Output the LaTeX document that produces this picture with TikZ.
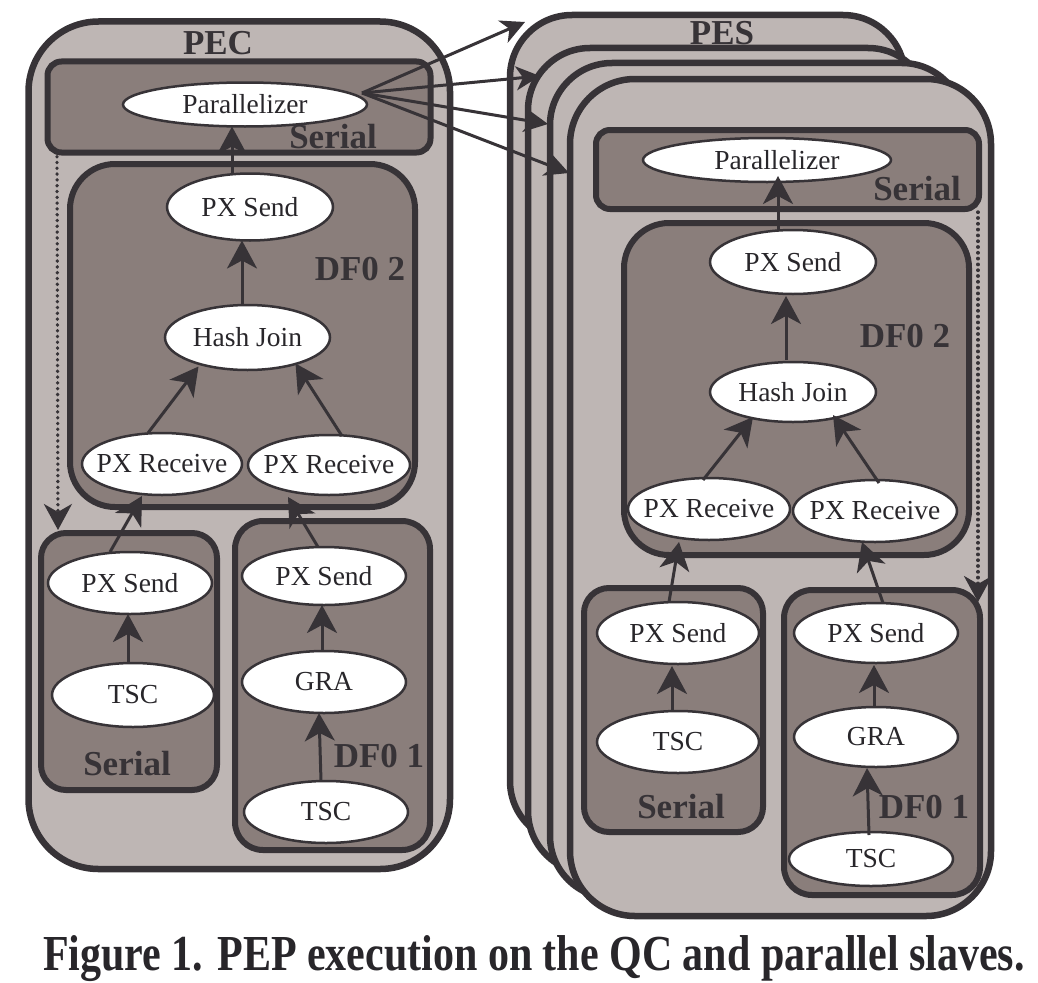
\documentclass[tikz,border=0pt]{standalone}
\usepackage{fontspec}
\setmainfont{Liberation Serif}
\usetikzlibrary{arrows.meta,calc,shapes.geometric}
\definecolor{boxlight}{RGB}{190,182,180}
\definecolor{boxdark}{RGB}{138,126,123}
\definecolor{edgecol}{RGB}{55,51,55}
\definecolor{ink}{RGB}{40,38,42}
\tikzset{
  rect/.style n args={3}{rectangle, minimum width=#1, minimum height=#2, rounded corners=#3, inner sep=0pt, outer sep=0pt},
  outerbox/.style={draw=edgecol, fill=boxlight, line width=6.5pt},
  innerbox/.style={draw=edgecol, fill=boxdark, line width=6pt},
  op/.style 2 args={ellipse, draw=edgecol, fill=white, line width=2.5pt, minimum width=#1, minimum height=#2, inner sep=0pt, outer sep=0pt, text=ink, font=\fontsize{27.5}{30}\selectfont},
  lbl/.style={anchor=base, text=edgecol, inner sep=0pt, font=\fontsize{35}{40}\selectfont\bfseries},
  arr/.style={draw=edgecol, line width=3pt, -{Stealth[length=28pt,width=30pt,inset=8pt]}},
  farr/.style={draw=edgecol, line width=3pt, -{Stealth[length=24pt,width=24pt,inset=7pt]}},
  dotarr/.style={draw=edgecol, line width=3.4pt, line cap=round, dash pattern=on 0.4pt off 5.4pt, -{Stealth[length=26pt,width=28pt,inset=8pt]}},
}
\begin{document}
\begin{tikzpicture}[x=1pt,y=-1pt]
\useasboundingbox (0,0) rectangle (1038,982);

% ---------------- PES stack ----------------
\node[outerbox, rect={395pt}{828pt}{62pt}] (pes1) at (707.5,429) {};
\node[lbl] (peslbl) at (722,45) {PES};
\node[outerbox, rect={402pt}{825pt}{62pt}] (pes2) at (729,460.5) {};
\node[outerbox, rect={414pt}{835pt}{62pt}] (pes3) at (757,480.5) {};
\node[outerbox, rect={421pt}{837pt}{65pt}] (pes4) at (780.5,497.5) {};

\node[innerbox, rect={383pt}{79pt}{14pt}] (pesser) at (787.5,169.5) {};
\node[innerbox, rect={345pt}{332pt}{45pt}] (pesdf2) at (796.5,389) {};
\node[innerbox, rect={179pt}{244pt}{25pt}] (pessb) at (673.5,710) {};
\node[innerbox, rect={196pt}{305pt}{28pt}] (pesdf1) at (882,742.5) {};

\node[lbl] (pesserl) at (917,200) {Serial};
\node[lbl] (pesdf2l) at (905,347) {DF0 2};
\node[lbl] (pessbl) at (681,818) {Serial};
\node[lbl] (pesdf1l) at (924,818) {DF0 1};

\node[op={248pt}{44pt}] (pespar) at (767,160) {\makebox[0pt]{\hspace{20pt}Parallelizer}};
\node[op={166pt}{64pt}] (pesps) at (793,262) {\makebox[0pt]{PX Send}};
\node[op={166pt}{60pt}] (peshj) at (793,392) {\makebox[0pt]{Hash Join}};
\node[op={162pt}{62pt}] (pesrl) at (709,509) {\makebox[0pt]{PX Receive}};
\node[op={164pt}{62pt}] (pesrr) at (875,511) {\makebox[0pt]{PX Receive}};
\node[op={162pt}{62pt}] (pessps) at (678,633) {\makebox[0pt]{PX Send}};
\node[op={162pt}{62pt}] (pests) at (678,742) {\makebox[0pt]{TSC}};
\node[op={164pt}{60pt}] (pesdps) at (876,633) {\makebox[0pt]{PX Send}};
\node[op={164pt}{60pt}] (pesgra) at (876,737) {\makebox[0pt]{GRA}};
\node[op={164pt}{54pt}] (pestb) at (871,859) {\makebox[0pt]{TSC}};

\draw[arr] ($(pesps.north)+(-15,0)$) -- ($(pespar.south)+(11,-6)$);
\draw[arr] ($(peshj.north)+(-7,-2)$) -- ($(pesps.south)+(-7,2)$);
\draw[arr] ($(pesrl.north)+(-6,2)$) -- ($(peshj.center)+(-40,25)$);
\draw[arr] ($(pesrr.north)+(4,3)$) -- ($(peshj.center)+(40,23)$);
\draw[arr] ($(pessps.north)+(-9,0)$) -- ($(pesrl.center)+(-30,33)$);
\draw[arr] ($(pests.north)+(-6,0)$) -- ($(pessps.south)+(-6,2)$);
\draw[arr] ($(pesdps.north)+(7,0)$) -- ($(pesrr.center)+(-13,31)$);
\draw[arr] ($(pesgra.north)+(-2,0)$) -- ($(pesdps.south)+(-2,2)$);
\draw[arr] ($(pestb.north)+(-2,3)$) -- ($(pesgra.south)+(-9,1)$);
\draw[dotarr] ($(pesser.south east)+(-1,3)$) -- ($(pesdf1.north east)+(-2,12)$);

% ---------------- PEC ----------------
\node[outerbox, rect={421.5pt}{847.5pt}{70pt}] (pec) at (239.25,445.25) {};
\node[lbl] (peclbl) at (218,55) {PEC};
\node[innerbox, rect={383pt}{91pt}{14pt}] (pecser) at (239,107) {};
\node[innerbox, rect={345pt}{343pt}{45pt}] (pecdf2) at (242.5,335.5) {};
\node[innerbox, rect={176pt}{257pt}{25pt}] (pecsb) at (129,661.5) {};
\node[innerbox, rect={195pt}{329pt}{28pt}] (pecdf1) at (332.5,685.5) {};

\node[lbl] (pecserl) at (333,148) {Serial};
\node[lbl] (pecdf2l) at (360,280) {DF0 2};
\node[lbl] (pecsbl) at (127,775) {Serial};
\node[lbl] (pecdf1l) at (379,767) {DF0 1};

\node[op={244pt}{44pt}] (pecpar) at (245,104.5) {\makebox[0pt]{Parallelizer}};
\node[op={166pt}{67pt}] (pecps) at (250,207) {\makebox[0pt]{PX Send}};
\node[op={165pt}{65pt}] (pechj) at (247.5,337.5) {\makebox[0pt]{Hash Join}};
\node[op={160pt}{62pt}] (pecrl) at (162,464) {\makebox[0pt]{PX Receive}};
\node[op={162pt}{60pt}] (pecrr) at (329,465) {\makebox[0pt]{PX Receive}};
\node[op={164pt}{62pt}] (pecsps) at (130,583) {\makebox[0pt]{PX Send}};
\node[op={162pt}{64pt}] (pects) at (133,695) {\makebox[0pt]{TSC}};
\node[op={164pt}{58pt}] (pecdps) at (324,576) {\makebox[0pt]{PX Send}};
\node[op={164pt}{62pt}] (pecgra) at (324,682) {\makebox[0pt]{GRA}};
\node[op={164pt}{62pt}] (pectb) at (326,812) {\makebox[0pt]{TSC}};

\draw[arr] ($(pecps.north)+(-18,0)$) -- ($(pecpar.south)+(-13,0)$);
\draw[arr] ($(pechj.north)+(-5.5,0)$) -- ($(pecps.south)+(-8,0)$);
\draw[arr] ($(pecrl.north)+(-14,0)$) -- ($(pechj.center)+(-49,29)$);
\draw[arr] ($(pecrr.north)+(13,1)$) -- ($(pechj.center)+(48,26)$);
\draw[arr] ($(pecsps.north)+(-20,0)$) -- ($(pecrl.south)+(-20,1)$);
\draw[arr] ($(pects.north)+(-5,0)$) -- ($(pecsps.south)+(-2,0)$);
\draw[arr] ($(pecdps.north)+(-6,0)$) -- ($(pecrr.center)+(-41,32)$);
\draw[arr] ($(pecgra.north)+(-2,0)$) -- ($(pecdps.south)+(-2,0)$);
\draw[arr] ($(pectb.north)+(-5,0)$) -- ($(pecgra.south)+(-5,0)$);
\draw[dotarr] ($(pecser.south west)+(9.5,4)$) -- ($(pecsb.north west)+(17,-3)$);

% ---------------- fan-out to the slaves ----------------
\coordinate (src) at (362,93);
\coordinate (t1) at (525,22);
\coordinate (t2) at (540,76);
\coordinate (t3) at (548,124);
\coordinate (t4) at (569,173);
\draw[farr] (src) -- (t1);
\draw[farr] (src) -- (t2);
\draw[farr] (src) -- (t3);
\draw[farr] (src) -- (t4);

% ---------------- caption ----------------
\node[anchor=base, inner sep=0pt, text=ink, font=\fontsize{42}{46}\selectfont\bfseries] (caption) at (534,970)
  {\scalebox{1}[1.2]{Figure 1. PEP execution on the QC and parallel slaves.}};
\end{tikzpicture}
\end{document}
